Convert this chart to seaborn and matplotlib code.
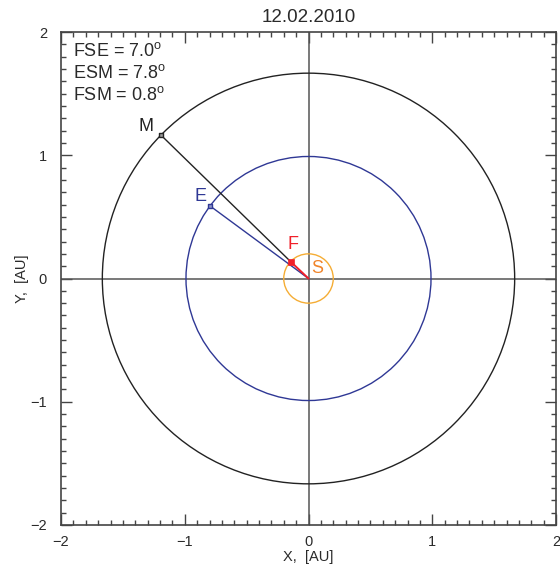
import numpy as np
import pandas as pd
import matplotlib
matplotlib.use("Agg")
import matplotlib.pyplot as plt
from matplotlib.patches import Circle
from matplotlib.ticker import MultipleLocator
import seaborn as sns

# Configuration of bodies: heliocentric distance [AU] and longitude [deg]
bodies = ["M", "E", "F"]
radius_au = [1.666, 0.990, 0.200]
longitude_deg = [135.7, 143.5, 136.5]

# Orbit circles (radius in AU)
orbit_names = ["Mars", "Earth", "Sun"]
orbit_radius = [1.666, 0.990, 0.200]

# Angles printed in the corner
angle_names = ["FSE", "ESM", "FSM"]
angle_values = [7.0, 7.8, 0.8]

title = "12.02.2010"
x_ticks = [-2, -1, 0, 1, 2]
y_ticks = [-2, -1, 0, 1, 2]

sns.set_style("ticks")
plt.rcParams["font.family"] = ["Liberation Sans", "DejaVu Sans"]
plt.rcParams["mathtext.fontset"] = "custom"
plt.rcParams["mathtext.rm"] = "Liberation Sans"
plt.rcParams["axes.unicode_minus"] = True

frame_col = "#444444"
text_col = "#2a2a2a"
mars_col = "#222222"
earth_col = "#2f3895"
f_col = "#f0202a"
sun_col = "#f5ad35"
s_text_col = "#f0842a"

fig = plt.figure(figsize=(5.6, 5.67), dpi=100)
ax = fig.add_axes([61 / 560, 42 / 567, 495 / 560, 493 / 567])

df = pd.DataFrame({"body": bodies, "r": radius_au, "lon": longitude_deg})
df["x"] = df["r"] * np.cos(np.radians(df["lon"]))
df["y"] = df["r"] * np.sin(np.radians(df["lon"]))
pos = df.set_index("body")

# Coordinate axes through the Sun
ax.axhline(0, color="#555555", lw=1.1, zorder=1)
ax.axvline(0, color="#555555", lw=1.1, zorder=1)

# Orbits
for name, r, c in zip(orbit_names, orbit_radius, [mars_col, earth_col, sun_col]):
    ax.add_patch(Circle((0, 0), r, fill=False, ec=c, lw=1.0, zorder=2))

# Connecting lines
mx, my = pos.loc["M", "x"], pos.loc["M", "y"]
ex, ey = pos.loc["E", "x"], pos.loc["E", "y"]
fx, fy = pos.loc["F", "x"], pos.loc["F", "y"]
sns.lineplot(x=[mx, fx], y=[my, fy], sort=False, color=mars_col, lw=1.0, ax=ax, zorder=3)
sns.lineplot(x=[fx, 0], y=[fy, 0], sort=False, color=f_col, lw=1.4, ax=ax, zorder=4)
sns.lineplot(x=[ex, 0], y=[ey, 0], sort=False, color=earth_col, lw=1.0, ax=ax, zorder=3)

# Body markers
sns.scatterplot(x=[mx], y=[my], marker="s", s=12, color="#9a9a9a", edgecolor=mars_col,
                linewidth=1.0, ax=ax, zorder=5)
sns.scatterplot(x=[ex], y=[ey], marker="s", s=12, color="#8e94c8", edgecolor=earth_col,
                linewidth=1.0, ax=ax, zorder=5)
sns.scatterplot(x=[fx], y=[fy], marker="s", s=18, color=f_col, edgecolor=f_col,
                linewidth=0.5, ax=ax, zorder=5)

# Labels
lab_fs = 13
ax.annotate("M", (mx, my), xytext=(-11, 6), textcoords="offset points",
            fontsize=lab_fs, color=mars_col, ha="center", va="center")
ax.annotate("E", (ex, ey), xytext=(-6.5, 6.5), textcoords="offset points",
            fontsize=lab_fs, color=earth_col, ha="center", va="center")
ax.annotate("F", (fx, fy), xytext=(1.5, 12.5), textcoords="offset points",
            fontsize=lab_fs, color=f_col, ha="center", va="center")
ax.annotate("S", (0, 0), xytext=(6, 7.3), textcoords="offset points",
            fontsize=lab_fs, color=s_text_col, ha="center", va="center")

for i, (n, v) in enumerate(zip(angle_names, angle_values)):
    ax.text(0.024, 0.951 - i * 0.044, f"{n} = {v:.1f}$^\\mathregular{{o}}$",
            transform=ax.transAxes, fontsize=13, color=text_col,
            ha="left", va="baseline")

ax.set_xlim(-2, 2)
ax.set_ylim(-2, 2)
ax.set_xticks(x_ticks)
ax.set_yticks(y_ticks)
ax.set_xticklabels([f"{t:d}".replace("-", "\u2212") for t in x_ticks])
ax.set_yticklabels([f"{t:d}".replace("-", "\u2212") for t in y_ticks])
ax.xaxis.set_minor_locator(MultipleLocator(0.1))
ax.yaxis.set_minor_locator(MultipleLocator(0.1))
ax.tick_params(which="both", direction="in", top=True, right=True,
               labeltop=False, labelright=False, color=frame_col, width=1.0)
ax.tick_params(which="major", length=8, labelsize=10.5, labelcolor=text_col)
ax.tick_params(which="minor", length=3.6)
ax.tick_params(axis="x", which="major", pad=7)
ax.tick_params(axis="y", which="major", pad=10)
for sp in ax.spines.values():
    sp.set_visible(True)
    sp.set_color(frame_col)
    sp.set_linewidth(1.2)

ax.set_xlabel("X,  [AU]", fontsize=10.5, color=text_col, labelpad=1)
ax.set_ylabel("Y,  [AU]", fontsize=10.5, color=text_col, labelpad=1)
ax.set_title(title, fontsize=13.5, color=text_col, pad=7)

fig.savefig("out.png", dpi=100)
